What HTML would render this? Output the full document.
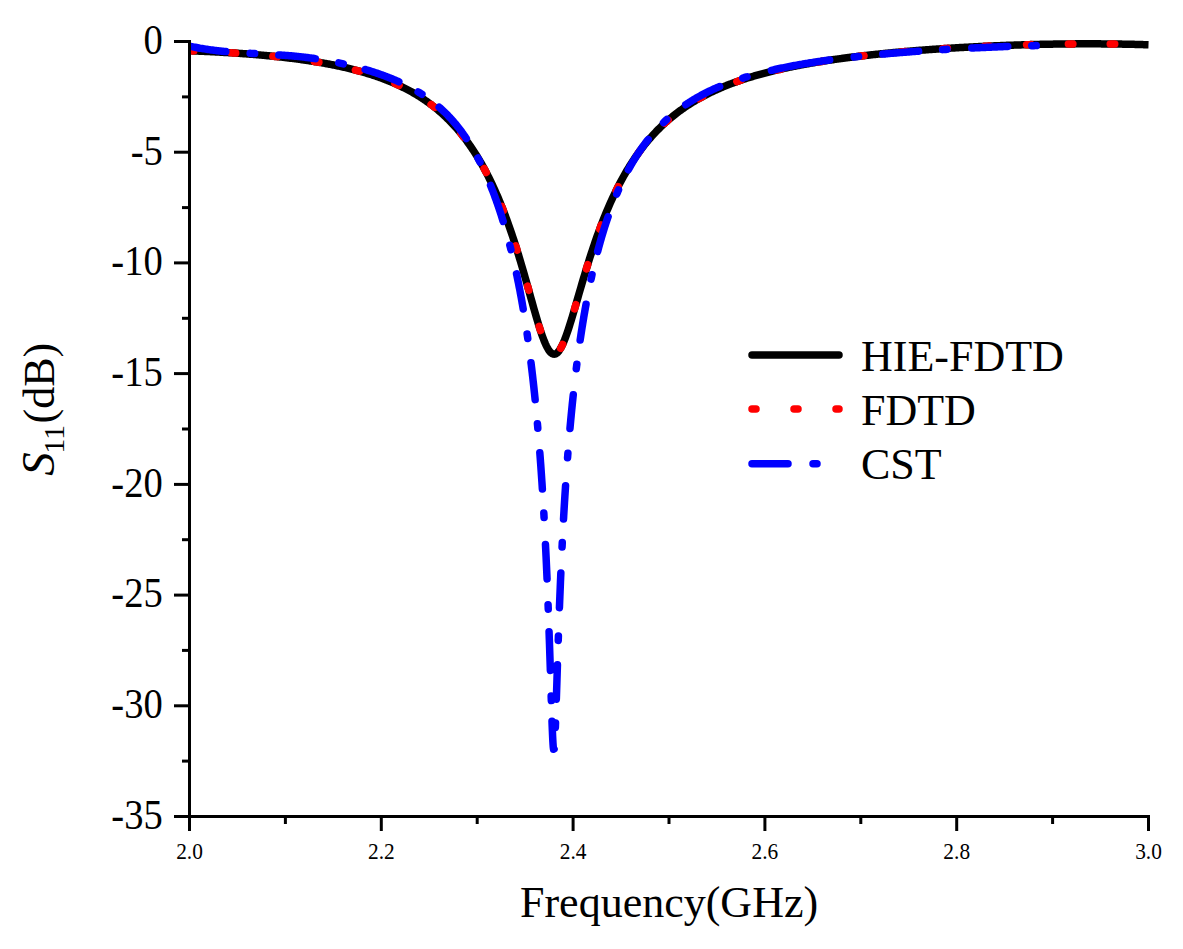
<!DOCTYPE html>
<html><head><meta charset="utf-8"><style>
html,body{margin:0;padding:0;background:#fff;width:1183px;height:949px;overflow:hidden}
svg{display:block}
text{font-family:"Liberation Serif",serif;fill:#000}
.yl{font-size:41.5px;text-anchor:end;dominant-baseline:central}
.xl{font-size:23px;text-anchor:middle}
.tt{font-size:44px}
</style></head><body>
<svg width="1183" height="949" viewBox="0 0 1183 949">
<defs><clipPath id="c"><rect x="190" y="0" width="959" height="949"/></clipPath></defs>
<g clip-path="url(#c)" fill="none" stroke-linejoin="round">
<path d="M189.50,50.79 190.46,50.82 191.42,50.86 192.38,50.89 193.34,50.93 194.29,50.97 195.25,51.00 196.21,51.04 197.17,51.08 198.13,51.12 199.09,51.16 200.05,51.20 201.01,51.24 201.97,51.28 202.93,51.32 203.88,51.36 204.84,51.40 205.80,51.45 206.76,51.49 207.72,51.54 208.68,51.58 209.64,51.63 210.60,51.67 211.56,51.72 212.52,51.77 213.47,51.82 214.43,51.86 215.39,51.91 216.35,51.96 217.31,52.01 218.27,52.07 219.23,52.12 220.19,52.17 221.15,52.22 222.11,52.28 223.06,52.33 224.02,52.39 224.98,52.44 225.94,52.50 226.90,52.56 227.86,52.62 228.82,52.67 229.78,52.73 230.74,52.79 231.70,52.85 232.65,52.92 233.61,52.98 234.57,53.04 235.53,53.10 236.49,53.17 237.45,53.23 238.41,53.30 239.37,53.37 240.33,53.43 241.29,53.50 242.24,53.57 243.20,53.64 244.16,53.71 245.12,53.78 246.08,53.85 247.04,53.93 248.00,54.00 248.96,54.08 249.92,54.15 250.88,54.23 251.83,54.30 252.79,54.38 253.75,54.46 254.71,54.54 255.67,54.62 256.63,54.70 257.59,54.78 258.55,54.87 259.51,54.95 260.47,55.03 261.42,55.12 262.38,55.21 263.34,55.29 264.30,55.38 265.26,55.47 266.22,55.56 267.18,55.65 268.14,55.75 269.10,55.84 270.06,55.93 271.01,56.03 271.97,56.12 272.93,56.22 273.89,56.32 274.85,56.42 275.81,56.52 276.77,56.62 277.73,56.72 278.69,56.83 279.65,56.93 280.60,57.04 281.56,57.14 282.52,57.25 283.48,57.36 284.44,57.47 285.40,57.58 286.36,57.69 287.32,57.81 288.28,57.92 289.24,58.04 290.19,58.16 291.15,58.28 292.11,58.40 293.07,58.52 294.03,58.64 294.99,58.76 295.95,58.89 296.91,59.01 297.87,59.14 298.83,59.27 299.78,59.40 300.74,59.53 301.70,59.67 302.66,59.80 303.62,59.94 304.58,60.08 305.54,60.22 306.50,60.36 307.46,60.50 308.42,60.64 309.37,60.79 310.33,60.93 311.29,61.08 312.25,61.23 313.21,61.38 314.17,61.54 315.13,61.69 316.09,61.85 317.05,62.01 318.01,62.17 318.96,62.33 319.92,62.49 320.88,62.66 321.84,62.83 322.80,62.99 323.76,63.17 324.72,63.34 325.68,63.51 326.64,63.69 327.60,63.87 328.55,64.05 329.51,64.23 330.47,64.42 331.43,64.60 332.39,64.79 333.35,64.98 334.31,65.18 335.27,65.37 336.23,65.57 337.19,65.77 338.14,65.97 339.10,66.18 340.06,66.39 341.02,66.60 341.98,66.81 342.94,67.02 343.90,67.24 344.86,67.46 345.82,67.68 346.78,67.90 347.73,68.13 348.69,68.36 349.65,68.59 350.61,68.83 351.57,69.07 352.53,69.31 353.49,69.55 354.45,69.80 355.41,70.05 356.37,70.30 357.32,70.56 358.28,70.81 359.24,71.08 360.20,71.34 361.16,71.61 362.12,71.88 363.08,72.16 364.04,72.43 365.00,72.72 365.96,73.00 366.91,73.29 367.87,73.58 368.83,73.88 369.79,74.18 370.75,74.48 371.71,74.79 372.67,75.10 373.63,75.41 374.59,75.73 375.55,76.06 376.50,76.38 377.46,76.71 378.42,77.05 379.38,77.39 380.34,77.73 381.30,78.08 382.26,78.44 383.22,78.79 384.18,79.16 385.14,79.52 386.09,79.90 387.05,80.27 388.01,80.65 388.97,81.04 389.93,81.43 390.89,81.83 391.85,82.23 392.81,82.64 393.77,83.06 394.73,83.47 395.68,83.90 396.64,84.33 397.60,84.77 398.56,85.21 399.52,85.66 400.48,86.11 401.44,86.57 402.40,87.04 403.36,87.51 404.32,87.99 405.27,88.48 406.23,88.98 407.19,89.48 408.15,89.98 409.11,90.50 410.07,91.02 411.03,91.55 411.99,92.09 412.95,92.63 413.91,93.19 414.86,93.75 415.82,94.31 416.78,94.89 417.74,95.48 418.70,96.07 419.66,96.67 420.62,97.28 421.58,97.90 422.54,98.53 423.50,99.17 424.45,99.82 425.41,100.48 426.37,101.14 427.33,101.82 428.29,102.51 429.25,103.21 430.21,103.92 431.17,104.63 432.13,105.36 433.09,106.11 434.04,106.86 435.00,107.62 435.96,108.40 436.92,109.18 437.88,109.98 438.84,110.79 439.80,111.62 440.76,112.46 441.72,113.31 442.68,114.17 443.63,115.05 444.59,115.94 445.55,116.84 446.51,117.76 447.47,118.69 448.43,119.64 449.39,120.60 450.35,121.58 451.31,122.58 452.27,123.59 453.22,124.61 454.18,125.66 455.14,126.72 456.10,127.79 457.06,128.89 458.02,130.00 458.98,131.13 459.94,132.28 460.90,133.44 461.86,134.63 462.81,135.84 463.77,137.06 464.73,138.31 465.69,139.58 466.65,140.86 467.61,142.17 468.57,143.50 469.53,144.86 470.49,146.23 471.45,147.63 472.40,149.05 473.36,150.50 474.32,151.97 475.28,153.47 476.24,154.99 477.20,156.53 478.16,158.11 479.12,159.70 480.08,161.33 481.04,162.99 481.99,164.67 482.95,166.38 483.91,168.12 484.87,169.89 485.83,171.69 486.79,173.52 487.75,175.38 488.71,177.28 489.67,179.21 490.63,181.17 491.58,183.16 492.54,185.19 493.50,187.25 494.46,189.35 495.42,191.48 496.38,193.65 497.34,195.86 498.30,198.10 499.26,200.39 500.22,202.71 501.17,205.07 502.13,207.47 503.09,209.91 504.05,212.39 505.01,214.91 505.97,217.47 506.93,220.08 507.89,222.73 508.85,225.41 509.81,228.15 510.76,230.92 511.72,233.74 512.68,236.60 513.64,239.50 514.60,242.45 515.56,245.44 516.52,248.47 517.48,251.54 518.44,254.65 519.40,257.80 520.35,260.99 521.31,264.21 522.27,267.47 523.23,270.76 524.19,274.09 525.15,277.44 526.11,280.82 527.07,284.21 528.03,287.63 528.99,291.06 529.94,294.49 530.90,297.93 531.86,301.36 532.82,304.78 533.78,308.18 534.74,311.55 535.70,314.89 536.66,318.17 537.62,321.40 538.58,324.56 539.53,327.63 540.49,330.61 541.45,333.47 542.41,336.21 543.37,338.81 544.33,341.26 545.29,343.53 546.25,345.62 547.21,347.51 548.17,349.19 549.12,350.64 550.08,351.85 551.04,352.82 552.00,353.53 552.96,353.99 553.92,354.18 554.88,354.10 555.84,353.77 556.80,353.17 557.76,352.32 558.71,351.22 559.67,349.89 560.63,348.34 561.59,346.57 562.55,344.60 563.51,342.45 564.47,340.13 565.43,337.65 566.39,335.04 567.35,332.30 568.30,329.45 569.26,326.50 570.22,323.48 571.18,320.38 572.14,317.22 573.10,314.01 574.06,310.77 575.02,307.50 575.98,304.21 576.94,300.90 577.89,297.60 578.85,294.29 579.81,290.99 580.77,287.70 581.73,284.42 582.69,281.17 583.65,277.94 584.61,274.74 585.57,271.57 586.53,268.43 587.48,265.32 588.44,262.25 589.40,259.22 590.36,256.22 591.32,253.26 592.28,250.34 593.24,247.46 594.20,244.63 595.16,241.83 596.12,239.07 597.07,236.36 598.03,233.69 598.99,231.05 599.95,228.46 600.91,225.91 601.87,223.40 602.83,220.93 603.79,218.50 604.75,216.11 605.71,213.76 606.66,211.44 607.62,209.17 608.58,206.93 609.54,204.73 610.50,202.56 611.46,200.43 612.42,198.34 613.38,196.28 614.34,194.25 615.30,192.26 616.25,190.30 617.21,188.37 618.17,186.48 619.13,184.61 620.09,182.78 621.05,180.98 622.01,179.21 622.97,177.46 623.93,175.75 624.89,174.06 625.84,172.40 626.80,170.77 627.76,169.16 628.72,167.58 629.68,166.03 630.64,164.50 631.60,163.00 632.56,161.52 633.52,160.06 634.48,158.63 635.43,157.22 636.39,155.83 637.35,154.47 638.31,153.12 639.27,151.80 640.23,150.50 641.19,149.22 642.15,147.96 643.11,146.71 644.07,145.49 645.02,144.29 645.98,143.10 646.94,141.94 647.90,140.79 648.86,139.66 649.82,138.54 650.78,137.45 651.74,136.37 652.70,135.30 653.66,134.26 654.61,133.22 655.57,132.21 656.53,131.21 657.49,130.22 658.45,129.25 659.41,128.29 660.37,127.35 661.33,126.42 662.29,125.50 663.25,124.60 664.20,123.71 665.16,122.83 666.12,121.97 667.08,121.12 668.04,120.28 669.00,119.45 669.96,118.63 670.92,117.83 671.88,117.04 672.84,116.25 673.79,115.48 674.75,114.72 675.71,113.97 676.67,113.23 677.63,112.50 678.59,111.78 679.55,111.07 680.51,110.37 681.47,109.68 682.43,109.00 683.38,108.33 684.34,107.67 685.30,107.01 686.26,106.37 687.22,105.73 688.18,105.10 689.14,104.48 690.10,103.87 691.06,103.27 692.02,102.67 692.97,102.08 693.93,101.50 694.89,100.93 695.85,100.36 696.81,99.80 697.77,99.25 698.73,98.71 699.69,98.17 700.65,97.64 701.61,97.11 702.56,96.59 703.52,96.08 704.48,95.58 705.44,95.08 706.40,94.58 707.36,94.10 708.32,93.62 709.28,93.14 710.24,92.67 711.20,92.21 712.15,91.75 713.11,91.30 714.07,90.85 715.03,90.41 715.99,89.97 716.95,89.54 717.91,89.11 718.87,88.69 719.83,88.27 720.79,87.86 721.74,87.45 722.70,87.05 723.66,86.65 724.62,86.26 725.58,85.87 726.54,85.48 727.50,85.10 728.46,84.73 729.42,84.35 730.38,83.99 731.33,83.62 732.29,83.26 733.25,82.91 734.21,82.55 735.17,82.20 736.13,81.86 737.09,81.52 738.05,81.18 739.01,80.85 739.97,80.52 740.92,80.19 741.88,79.87 742.84,79.55 743.80,79.23 744.76,78.92 745.72,78.61 746.68,78.30 747.64,78.00 748.60,77.70 749.56,77.40 750.51,77.11 751.47,76.81 752.43,76.53 753.39,76.24 754.35,75.96 755.31,75.68 756.27,75.40 757.23,75.13 758.19,74.86 759.15,74.59 760.10,74.32 761.06,74.06 762.02,73.79 762.98,73.54 763.94,73.28 764.90,73.03 765.86,72.77 766.82,72.53 767.78,72.28 768.74,72.03 769.69,71.79 770.65,71.55 771.61,71.31 772.57,71.08 773.53,70.85 774.49,70.62 775.45,70.39 776.41,70.16 777.37,69.93 778.33,69.71 779.28,69.49 780.24,69.27 781.20,69.06 782.16,68.84 783.12,68.63 784.08,68.42 785.04,68.21 786.00,68.00 786.96,67.79 787.92,67.59 788.87,67.39 789.83,67.19 790.79,66.99 791.75,66.79 792.71,66.60 793.67,66.40 794.63,66.21 795.59,66.02 796.55,65.83 797.51,65.65 798.46,65.46 799.42,65.28 800.38,65.09 801.34,64.91 802.30,64.73 803.26,64.56 804.22,64.38 805.18,64.20 806.14,64.03 807.10,63.86 808.05,63.69 809.01,63.52 809.97,63.35 810.93,63.18 811.89,63.02 812.85,62.85 813.81,62.69 814.77,62.53 815.73,62.37 816.69,62.21 817.64,62.05 818.60,61.89 819.56,61.74 820.52,61.58 821.48,61.43 822.44,61.28 823.40,61.13 824.36,60.98 825.32,60.83 826.28,60.68 827.23,60.54 828.19,60.39 829.15,60.25 830.11,60.10 831.07,59.96 832.03,59.82 832.99,59.68 833.95,59.54 834.91,59.40 835.87,59.27 836.82,59.13 837.78,59.00 838.74,58.86 839.70,58.73 840.66,58.60 841.62,58.47 842.58,58.34 843.54,58.21 844.50,58.08 845.46,57.95 846.41,57.83 847.37,57.70 848.33,57.58 849.29,57.45 850.25,57.33 851.21,57.21 852.17,57.09 853.13,56.97 854.09,56.85 855.05,56.73 856.00,56.61 856.96,56.49 857.92,56.38 858.88,56.26 859.84,56.15 860.80,56.03 861.76,55.92 862.72,55.81 863.68,55.70 864.64,55.59 865.59,55.48 866.55,55.37 867.51,55.26 868.47,55.15 869.43,55.04 870.39,54.94 871.35,54.83 872.31,54.73 873.27,54.62 874.23,54.52 875.18,54.42 876.14,54.31 877.10,54.21 878.06,54.11 879.02,54.01 879.98,53.91 880.94,53.81 881.90,53.72 882.86,53.62 883.82,53.52 884.77,53.42 885.73,53.33 886.69,53.23 887.65,53.14 888.61,53.05 889.57,52.95 890.53,52.86 891.49,52.77 892.45,52.68 893.41,52.59 894.36,52.50 895.32,52.41 896.28,52.32 897.24,52.23 898.20,52.14 899.16,52.06 900.12,51.97 901.08,51.88 902.04,51.80 903.00,51.71 903.95,51.63 904.91,51.55 905.87,51.46 906.83,51.38 907.79,51.30 908.75,51.22 909.71,51.14 910.67,51.06 911.63,50.98 912.59,50.90 913.54,50.82 914.50,50.74 915.46,50.66 916.42,50.58 917.38,50.51 918.34,50.43 919.30,50.36 920.26,50.28 921.22,50.21 922.18,50.13 923.13,50.06 924.09,49.98 925.05,49.91 926.01,49.84 926.97,49.77 927.93,49.70 928.89,49.63 929.85,49.56 930.81,49.49 931.77,49.42 932.72,49.35 933.68,49.28 934.64,49.21 935.60,49.14 936.56,49.08 937.52,49.01 938.48,48.95 939.44,48.88 940.40,48.81 941.36,48.75 942.31,48.69 943.27,48.62 944.23,48.56 945.19,48.50 946.15,48.43 947.11,48.37 948.07,48.31 949.03,48.25 949.99,48.19 950.95,48.13 951.90,48.07 952.86,48.01 953.82,47.95 954.78,47.89 955.74,47.84 956.70,47.78 957.66,47.72 958.62,47.66 959.58,47.61 960.54,47.55 961.49,47.50 962.45,47.44 963.41,47.39 964.37,47.33 965.33,47.28 966.29,47.23 967.25,47.17 968.21,47.12 969.17,47.07 970.13,47.02 971.08,46.97 972.04,46.92 973.00,46.87 973.96,46.82 974.92,46.77 975.88,46.72 976.84,46.67 977.80,46.62 978.76,46.57 979.72,46.53 980.67,46.48 981.63,46.43 982.59,46.39 983.55,46.34 984.51,46.30 985.47,46.25 986.43,46.21 987.39,46.16 988.35,46.12 989.31,46.08 990.26,46.03 991.22,45.99 992.18,45.95 993.14,45.91 994.10,45.87 995.06,45.83 996.02,45.79 996.98,45.75 997.94,45.71 998.90,45.67 999.85,45.63 1000.81,45.59 1001.77,45.55 1002.73,45.52 1003.69,45.48 1004.65,45.44 1005.61,45.41 1006.57,45.37 1007.53,45.34 1008.49,45.30 1009.44,45.27 1010.40,45.23 1011.36,45.20 1012.32,45.16 1013.28,45.13 1014.24,45.10 1015.20,45.07 1016.16,45.03 1017.12,45.00 1018.08,44.97 1019.03,44.94 1019.99,44.91 1020.95,44.88 1021.91,44.85 1022.87,44.82 1023.83,44.80 1024.79,44.77 1025.75,44.74 1026.71,44.71 1027.67,44.69 1028.62,44.66 1029.58,44.63 1030.54,44.61 1031.50,44.58 1032.46,44.56 1033.42,44.53 1034.38,44.51 1035.34,44.48 1036.30,44.46 1037.26,44.44 1038.21,44.42 1039.17,44.39 1040.13,44.37 1041.09,44.35 1042.05,44.33 1043.01,44.31 1043.97,44.29 1044.93,44.27 1045.89,44.25 1046.85,44.23 1047.80,44.22 1048.76,44.20 1049.72,44.18 1050.68,44.16 1051.64,44.15 1052.60,44.13 1053.56,44.11 1054.52,44.10 1055.48,44.08 1056.44,44.07 1057.39,44.06 1058.35,44.04 1059.31,44.03 1060.27,44.02 1061.23,44.00 1062.19,43.99 1063.15,43.98 1064.11,43.97 1065.07,43.96 1066.03,43.95 1066.98,43.94 1067.94,43.93 1068.90,43.92 1069.86,43.91 1070.82,43.90 1071.78,43.90 1072.74,43.89 1073.70,43.88 1074.66,43.88 1075.62,43.87 1076.57,43.86 1077.53,43.86 1078.49,43.85 1079.45,43.85 1080.41,43.85 1081.37,43.84 1082.33,43.84 1083.29,43.84 1084.25,43.84 1085.21,43.83 1086.16,43.83 1087.12,43.83 1088.08,43.83 1089.04,43.83 1090.00,43.83 1090.96,43.83 1091.92,43.84 1092.88,43.84 1093.84,43.84 1094.80,43.84 1095.75,43.85 1096.71,43.85 1097.67,43.86 1098.63,43.86 1099.59,43.87 1100.55,43.87 1101.51,43.88 1102.47,43.88 1103.43,43.89 1104.39,43.90 1105.34,43.91 1106.30,43.92 1107.26,43.92 1108.22,43.93 1109.18,43.94 1110.14,43.95 1111.10,43.97 1112.06,43.98 1113.02,43.99 1113.98,44.00 1114.93,44.01 1115.89,44.03 1116.85,44.04 1117.81,44.05 1118.77,44.07 1119.73,44.08 1120.69,44.10 1121.65,44.12 1122.61,44.13 1123.57,44.15 1124.52,44.17 1125.48,44.19 1126.44,44.20 1127.40,44.22 1128.36,44.24 1129.32,44.26 1130.28,44.28 1131.24,44.31 1132.20,44.33 1133.16,44.35 1134.11,44.37 1135.07,44.39 1136.03,44.42 1136.99,44.44 1137.95,44.47 1138.91,44.49 1139.87,44.52 1140.83,44.54 1141.79,44.57 1142.75,44.60 1143.70,44.63 1144.66,44.65 1145.62,44.68 1146.58,44.71 1147.54,44.74 1148.50,44.77" stroke="#000" stroke-width="7.5"/>
<path d="M189.50,50.79 190.46,50.82 191.42,50.86 192.38,50.89 193.34,50.93 194.29,50.97 195.25,51.00 196.21,51.04 197.17,51.08 198.13,51.12 199.09,51.16 200.05,51.20 201.01,51.24 201.97,51.28 202.93,51.32 203.88,51.36 204.84,51.40 205.80,51.45 206.76,51.49 207.72,51.54 208.68,51.58 209.64,51.63 210.60,51.67 211.56,51.72 212.52,51.77 213.47,51.82 214.43,51.86 215.39,51.91 216.35,51.96 217.31,52.01 218.27,52.07 219.23,52.12 220.19,52.17 221.15,52.22 222.11,52.28 223.06,52.33 224.02,52.39 224.98,52.44 225.94,52.50 226.90,52.56 227.86,52.62 228.82,52.67 229.78,52.73 230.74,52.79 231.70,52.85 232.65,52.92 233.61,52.98 234.57,53.04 235.53,53.10 236.49,53.17 237.45,53.23 238.41,53.30 239.37,53.37 240.33,53.43 241.29,53.50 242.24,53.57 243.20,53.64 244.16,53.71 245.12,53.78 246.08,53.85 247.04,53.93 248.00,54.00 248.96,54.08 249.92,54.15 250.88,54.23 251.83,54.30 252.79,54.38 253.75,54.46 254.71,54.54 255.67,54.62 256.63,54.70 257.59,54.78 258.55,54.87 259.51,54.95 260.47,55.03 261.42,55.12 262.38,55.21 263.34,55.29 264.30,55.38 265.26,55.47 266.22,55.56 267.18,55.65 268.14,55.75 269.10,55.84 270.06,55.93 271.01,56.03 271.97,56.12 272.93,56.22 273.89,56.32 274.85,56.42 275.81,56.52 276.77,56.62 277.73,56.72 278.69,56.83 279.65,56.93 280.60,57.04 281.56,57.14 282.52,57.25 283.48,57.36 284.44,57.47 285.40,57.58 286.36,57.69 287.32,57.81 288.28,57.92 289.24,58.04 290.19,58.16 291.15,58.28 292.11,58.40 293.07,58.52 294.03,58.64 294.99,58.76 295.95,58.89 296.91,59.01 297.87,59.14 298.83,59.27 299.78,59.40 300.74,59.53 301.70,59.67 302.66,59.80 303.62,59.94 304.58,60.08 305.54,60.22 306.50,60.36 307.46,60.50 308.42,60.64 309.37,60.79 310.33,60.93 311.29,61.08 312.25,61.23 313.21,61.38 314.17,61.54 315.13,61.69 316.09,61.85 317.05,62.01 318.01,62.17 318.96,62.33 319.92,62.49 320.88,62.66 321.84,62.83 322.80,62.99 323.76,63.17 324.72,63.34 325.68,63.51 326.64,63.69 327.60,63.87 328.55,64.05 329.51,64.23 330.47,64.42 331.43,64.60 332.39,64.79 333.35,64.98 334.31,65.18 335.27,65.37 336.23,65.57 337.19,65.77 338.14,65.97 339.10,66.18 340.06,66.39 341.02,66.60 341.98,66.81 342.94,67.02 343.90,67.24 344.86,67.46 345.82,67.68 346.78,67.90 347.73,68.13 348.69,68.36 349.65,68.59 350.61,68.83 351.57,69.07 352.53,69.31 353.49,69.55 354.45,69.80 355.41,70.05 356.37,70.30 357.32,70.56 358.28,70.81 359.24,71.08 360.20,71.34 361.16,71.61 362.12,71.88 363.08,72.16 364.04,72.43 365.00,72.72 365.96,73.00 366.91,73.29 367.87,73.58 368.83,73.88 369.79,74.18 370.75,74.48 371.71,74.79 372.67,75.10 373.63,75.41 374.59,75.73 375.55,76.06 376.50,76.38 377.46,76.71 378.42,77.05 379.38,77.39 380.34,77.73 381.30,78.08 382.26,78.44 383.22,78.79 384.18,79.16 385.14,79.52 386.09,79.90 387.05,80.27 388.01,80.65 388.97,81.04 389.93,81.43 390.89,81.83 391.85,82.23 392.81,82.64 393.77,83.06 394.73,83.47 395.68,83.90 396.64,84.33 397.60,84.77 398.56,85.21 399.52,85.66 400.48,86.11 401.44,86.57 402.40,87.04 403.36,87.51 404.32,87.99 405.27,88.48 406.23,88.98 407.19,89.48 408.15,89.98 409.11,90.50 410.07,91.02 411.03,91.55 411.99,92.09 412.95,92.63 413.91,93.19 414.86,93.75 415.82,94.31 416.78,94.89 417.74,95.48 418.70,96.07 419.66,96.67 420.62,97.28 421.58,97.90 422.54,98.53 423.50,99.17 424.45,99.82 425.41,100.48 426.37,101.14 427.33,101.82 428.29,102.51 429.25,103.21 430.21,103.92 431.17,104.63 432.13,105.36 433.09,106.11 434.04,106.86 435.00,107.62 435.96,108.40 436.92,109.18 437.88,109.98 438.84,110.79 439.80,111.62 440.76,112.46 441.72,113.31 442.68,114.17 443.63,115.05 444.59,115.94 445.55,116.84 446.51,117.76 447.47,118.69 448.43,119.64 449.39,120.60 450.35,121.58 451.31,122.58 452.27,123.59 453.22,124.61 454.18,125.66 455.14,126.72 456.10,127.79 457.06,128.89 458.02,130.00 458.98,131.13 459.94,132.28 460.90,133.44 461.86,134.63 462.81,135.84 463.77,137.06 464.73,138.31 465.69,139.58 466.65,140.86 467.61,142.17 468.57,143.50 469.53,144.86 470.49,146.23 471.45,147.63 472.40,149.05 473.36,150.50 474.32,151.97 475.28,153.47 476.24,154.99 477.20,156.53 478.16,158.11 479.12,159.70 480.08,161.33 481.04,162.99 481.99,164.67 482.95,166.38 483.91,168.12 484.87,169.89 485.83,171.69 486.79,173.52 487.75,175.38 488.71,177.28 489.67,179.21 490.63,181.17 491.58,183.16 492.54,185.19 493.50,187.25 494.46,189.35 495.42,191.48 496.38,193.65 497.34,195.86 498.30,198.10 499.26,200.39 500.22,202.71 501.17,205.07 502.13,207.47 503.09,209.91 504.05,212.39 505.01,214.91 505.97,217.47 506.93,220.08 507.89,222.73 508.85,225.41 509.81,228.15 510.76,230.92 511.72,233.74 512.68,236.60 513.64,239.50 514.60,242.45 515.56,245.44 516.52,248.47 517.48,251.54 518.44,254.65 519.40,257.80 520.35,260.99 521.31,264.21 522.27,267.47 523.23,270.76 524.19,274.09 525.15,277.44 526.11,280.82 527.07,284.21 528.03,287.63 528.99,291.06 529.94,294.49 530.90,297.93 531.86,301.36 532.82,304.78 533.78,308.18 534.74,311.55 535.70,314.89 536.66,318.17 537.62,321.40 538.58,324.56 539.53,327.63 540.49,330.61 541.45,333.47 542.41,336.21 543.37,338.81 544.33,341.26 545.29,343.53 546.25,345.62 547.21,347.51 548.17,349.19 549.12,350.64 550.08,351.85 551.04,352.82 552.00,353.53 552.96,353.99 553.92,354.18 554.88,354.10 555.84,353.77 556.80,353.17 557.76,352.32 558.71,351.22 559.67,349.89 560.63,348.34 561.59,346.57 562.55,344.60 563.51,342.45 564.47,340.13 565.43,337.65 566.39,335.04 567.35,332.30 568.30,329.45 569.26,326.50 570.22,323.48 571.18,320.38 572.14,317.22 573.10,314.01 574.06,310.77 575.02,307.50 575.98,304.21 576.94,300.90 577.89,297.60 578.85,294.29 579.81,290.99 580.77,287.70 581.73,284.42 582.69,281.17 583.65,277.94 584.61,274.74 585.57,271.57 586.53,268.43 587.48,265.32 588.44,262.25 589.40,259.22 590.36,256.22 591.32,253.26 592.28,250.34 593.24,247.46 594.20,244.63 595.16,241.83 596.12,239.07 597.07,236.36 598.03,233.69 598.99,231.05 599.95,228.46 600.91,225.91 601.87,223.40 602.83,220.93 603.79,218.50 604.75,216.11 605.71,213.76 606.66,211.44 607.62,209.17 608.58,206.93 609.54,204.73 610.50,202.56 611.46,200.43 612.42,198.34 613.38,196.28 614.34,194.25 615.30,192.26 616.25,190.30 617.21,188.37 618.17,186.48 619.13,184.61 620.09,182.78 621.05,180.98 622.01,179.21 622.97,177.46 623.93,175.75 624.89,174.06 625.84,172.40 626.80,170.77 627.76,169.16 628.72,167.58 629.68,166.03 630.64,164.50 631.60,163.00 632.56,161.52 633.52,160.06 634.48,158.63 635.43,157.22 636.39,155.83 637.35,154.47 638.31,153.12 639.27,151.80 640.23,150.50 641.19,149.22 642.15,147.96 643.11,146.71 644.07,145.49 645.02,144.29 645.98,143.10 646.94,141.94 647.90,140.79 648.86,139.66 649.82,138.54 650.78,137.45 651.74,136.37 652.70,135.30 653.66,134.26 654.61,133.22 655.57,132.21 656.53,131.21 657.49,130.22 658.45,129.25 659.41,128.29 660.37,127.35 661.33,126.42 662.29,125.50 663.25,124.60 664.20,123.71 665.16,122.83 666.12,121.97 667.08,121.12 668.04,120.28 669.00,119.45 669.96,118.63 670.92,117.83 671.88,117.04 672.84,116.25 673.79,115.48 674.75,114.72 675.71,113.97 676.67,113.23 677.63,112.50 678.59,111.78 679.55,111.07 680.51,110.37 681.47,109.68 682.43,109.00 683.38,108.33 684.34,107.67 685.30,107.01 686.26,106.37 687.22,105.73 688.18,105.10 689.14,104.48 690.10,103.87 691.06,103.27 692.02,102.67 692.97,102.08 693.93,101.50 694.89,100.93 695.85,100.36 696.81,99.80 697.77,99.25 698.73,98.71 699.69,98.17 700.65,97.64 701.61,97.11 702.56,96.59 703.52,96.08 704.48,95.58 705.44,95.08 706.40,94.58 707.36,94.10 708.32,93.62 709.28,93.14 710.24,92.67 711.20,92.21 712.15,91.75 713.11,91.30 714.07,90.85 715.03,90.41 715.99,89.97 716.95,89.54 717.91,89.11 718.87,88.69 719.83,88.27 720.79,87.86 721.74,87.45 722.70,87.05 723.66,86.65 724.62,86.26 725.58,85.87 726.54,85.48 727.50,85.10 728.46,84.73 729.42,84.35 730.38,83.99 731.33,83.62 732.29,83.26 733.25,82.91 734.21,82.55 735.17,82.20 736.13,81.86 737.09,81.52 738.05,81.18 739.01,80.85 739.97,80.52 740.92,80.19 741.88,79.87 742.84,79.55 743.80,79.23 744.76,78.92 745.72,78.61 746.68,78.30 747.64,78.00 748.60,77.70 749.56,77.40 750.51,77.11 751.47,76.81 752.43,76.53 753.39,76.24 754.35,75.96 755.31,75.68 756.27,75.40 757.23,75.13 758.19,74.86 759.15,74.59 760.10,74.32 761.06,74.06 762.02,73.79 762.98,73.54 763.94,73.28 764.90,73.03 765.86,72.77 766.82,72.53 767.78,72.28 768.74,72.03 769.69,71.79 770.65,71.55 771.61,71.31 772.57,71.08 773.53,70.85 774.49,70.62 775.45,70.39 776.41,70.16 777.37,69.93 778.33,69.71 779.28,69.49 780.24,69.27 781.20,69.06 782.16,68.84 783.12,68.63 784.08,68.42 785.04,68.21 786.00,68.00 786.96,67.79 787.92,67.59 788.87,67.39 789.83,67.19 790.79,66.99 791.75,66.79 792.71,66.60 793.67,66.40 794.63,66.21 795.59,66.02 796.55,65.83 797.51,65.65 798.46,65.46 799.42,65.28 800.38,65.09 801.34,64.91 802.30,64.73 803.26,64.56 804.22,64.38 805.18,64.20 806.14,64.03 807.10,63.86 808.05,63.69 809.01,63.52 809.97,63.35 810.93,63.18 811.89,63.02 812.85,62.85 813.81,62.69 814.77,62.53 815.73,62.37 816.69,62.21 817.64,62.05 818.60,61.89 819.56,61.74 820.52,61.58 821.48,61.43 822.44,61.28 823.40,61.13 824.36,60.98 825.32,60.83 826.28,60.68 827.23,60.54 828.19,60.39 829.15,60.25 830.11,60.10 831.07,59.96 832.03,59.82 832.99,59.68 833.95,59.54 834.91,59.40 835.87,59.27 836.82,59.13 837.78,59.00 838.74,58.86 839.70,58.73 840.66,58.60 841.62,58.47 842.58,58.34 843.54,58.21 844.50,58.08 845.46,57.95 846.41,57.83 847.37,57.70 848.33,57.58 849.29,57.45 850.25,57.33 851.21,57.21 852.17,57.09 853.13,56.97 854.09,56.85 855.05,56.73 856.00,56.61 856.96,56.49 857.92,56.38 858.88,56.26 859.84,56.15 860.80,56.03 861.76,55.92 862.72,55.81 863.68,55.70 864.64,55.59 865.59,55.48 866.55,55.37 867.51,55.26 868.47,55.15 869.43,55.04 870.39,54.94 871.35,54.83 872.31,54.73 873.27,54.62 874.23,54.52 875.18,54.42 876.14,54.31 877.10,54.21 878.06,54.11 879.02,54.01 879.98,53.91 880.94,53.81 881.90,53.72 882.86,53.62 883.82,53.52 884.77,53.42 885.73,53.33 886.69,53.23 887.65,53.14 888.61,53.05 889.57,52.95 890.53,52.86 891.49,52.77 892.45,52.68 893.41,52.59 894.36,52.50 895.32,52.41 896.28,52.32 897.24,52.23 898.20,52.14 899.16,52.06 900.12,51.97 901.08,51.88 902.04,51.80 903.00,51.71 903.95,51.63 904.91,51.55 905.87,51.46 906.83,51.38 907.79,51.30 908.75,51.22 909.71,51.14 910.67,51.06 911.63,50.98 912.59,50.90 913.54,50.82 914.50,50.74 915.46,50.66 916.42,50.58 917.38,50.51 918.34,50.43 919.30,50.36 920.26,50.28 921.22,50.21 922.18,50.13 923.13,50.06 924.09,49.98 925.05,49.91 926.01,49.84 926.97,49.77 927.93,49.70 928.89,49.63 929.85,49.56 930.81,49.49 931.77,49.42 932.72,49.35 933.68,49.28 934.64,49.21 935.60,49.14 936.56,49.08 937.52,49.01 938.48,48.95 939.44,48.88 940.40,48.81 941.36,48.75 942.31,48.69 943.27,48.62 944.23,48.56 945.19,48.50 946.15,48.43 947.11,48.37 948.07,48.31 949.03,48.25 949.99,48.19 950.95,48.13 951.90,48.07 952.86,48.01 953.82,47.95 954.78,47.89 955.74,47.84 956.70,47.78 957.66,47.72 958.62,47.66 959.58,47.61 960.54,47.55 961.49,47.50 962.45,47.44 963.41,47.39 964.37,47.33 965.33,47.28 966.29,47.23 967.25,47.17 968.21,47.12 969.17,47.07 970.13,47.02 971.08,46.97 972.04,46.92 973.00,46.87 973.96,46.82 974.92,46.77 975.88,46.72 976.84,46.67 977.80,46.62 978.76,46.57 979.72,46.53 980.67,46.48 981.63,46.43 982.59,46.39 983.55,46.34 984.51,46.30 985.47,46.25 986.43,46.21 987.39,46.16 988.35,46.12 989.31,46.08 990.26,46.03 991.22,45.99 992.18,45.95 993.14,45.91 994.10,45.87 995.06,45.83 996.02,45.79 996.98,45.75 997.94,45.71 998.90,45.67 999.85,45.63 1000.81,45.59 1001.77,45.55 1002.73,45.52 1003.69,45.48 1004.65,45.44 1005.61,45.41 1006.57,45.37 1007.53,45.34 1008.49,45.30 1009.44,45.27 1010.40,45.23 1011.36,45.20 1012.32,45.16 1013.28,45.13 1014.24,45.10 1015.20,45.07 1016.16,45.03 1017.12,45.00 1018.08,44.97 1019.03,44.94 1019.99,44.91 1020.95,44.88 1021.91,44.85 1022.87,44.82 1023.83,44.80 1024.79,44.77 1025.75,44.74 1026.71,44.71 1027.67,44.69 1028.62,44.66 1029.58,44.63 1030.54,44.61 1031.50,44.58 1032.46,44.56 1033.42,44.53 1034.38,44.51 1035.34,44.48 1036.30,44.46 1037.26,44.44 1038.21,44.42 1039.17,44.39 1040.13,44.37 1041.09,44.35 1042.05,44.33 1043.01,44.31 1043.97,44.29 1044.93,44.27 1045.89,44.25 1046.85,44.23 1047.80,44.22 1048.76,44.20 1049.72,44.18 1050.68,44.16 1051.64,44.15 1052.60,44.13 1053.56,44.11 1054.52,44.10 1055.48,44.08 1056.44,44.07 1057.39,44.06 1058.35,44.04 1059.31,44.03 1060.27,44.02 1061.23,44.00 1062.19,43.99 1063.15,43.98 1064.11,43.97 1065.07,43.96 1066.03,43.95 1066.98,43.94 1067.94,43.93 1068.90,43.92 1069.86,43.91 1070.82,43.90 1071.78,43.90 1072.74,43.89 1073.70,43.88 1074.66,43.88 1075.62,43.87 1076.57,43.86 1077.53,43.86 1078.49,43.85 1079.45,43.85 1080.41,43.85 1081.37,43.84 1082.33,43.84 1083.29,43.84 1084.25,43.84 1085.21,43.83 1086.16,43.83 1087.12,43.83 1088.08,43.83 1089.04,43.83 1090.00,43.83 1090.96,43.83 1091.92,43.84 1092.88,43.84 1093.84,43.84 1094.80,43.84 1095.75,43.85 1096.71,43.85 1097.67,43.86 1098.63,43.86 1099.59,43.87 1100.55,43.87 1101.51,43.88 1102.47,43.88 1103.43,43.89 1104.39,43.90 1105.34,43.91 1106.30,43.92 1107.26,43.92 1108.22,43.93 1109.18,43.94 1110.14,43.95 1111.10,43.97 1112.06,43.98 1113.02,43.99 1113.98,44.00 1114.93,44.01 1115.89,44.03 1116.85,44.04 1117.81,44.05 1118.77,44.07 1119.73,44.08 1120.69,44.10 1121.65,44.12 1122.61,44.13 1123.57,44.15 1124.52,44.17 1125.48,44.19 1126.44,44.20 1127.40,44.22 1128.36,44.24 1129.32,44.26 1130.28,44.28 1131.24,44.31 1132.20,44.33 1133.16,44.35 1134.11,44.37 1135.07,44.39 1136.03,44.42 1136.99,44.44 1137.95,44.47 1138.91,44.49 1139.87,44.52 1140.83,44.54 1141.79,44.57 1142.75,44.60 1143.70,44.63 1144.66,44.65 1145.62,44.68 1146.58,44.71 1147.54,44.74 1148.50,44.77" stroke="#f00" stroke-width="7.5" stroke-dasharray="4.5 37.36" stroke-dashoffset="0.12" stroke-linecap="round"/>
<path d="M189.50,46.25 190.65,46.39 191.80,46.62 192.95,46.84 194.10,47.06 195.25,47.29 196.40,47.51 197.56,47.74 198.71,47.97 199.86,48.20 201.01,48.38 202.16,48.56 203.31,48.74 204.46,48.91 205.61,49.09 206.76,49.27 207.91,49.46 209.06,49.64 210.21,49.81 211.37,49.95 212.52,50.09 213.67,50.23 214.82,50.37 215.97,50.51 217.12,50.66 218.27,50.80 219.42,50.94 220.57,51.07 221.72,51.18 222.87,51.29 224.02,51.39 225.17,51.51 225.75,51.56 M250.16,53.35 251.26,53.41 252.41,53.47 253.56,53.53 254.66,53.59 M278.79,54.94 279.84,55.01 280.99,55.08 282.14,55.16 283.29,55.24 284.44,55.32 285.59,55.41 286.74,55.49 287.89,55.58 289.04,55.67 290.19,55.76 291.35,55.86 292.50,55.97 293.65,56.07 294.80,56.18 295.95,56.28 297.10,56.39 298.25,56.51 299.40,56.62 300.55,56.74 301.70,56.87 302.85,57.01 304.00,57.14 305.16,57.28 306.31,57.42 307.46,57.56 308.61,57.70 309.76,57.85 310.91,58.01 312.06,58.17 313.21,58.33 314.36,58.50 315.26,58.63 M338.82,62.86 339.87,63.08 341.02,63.33 342.17,63.58 343.22,63.82 M365.15,69.47 366.15,69.76 367.11,70.05 368.07,70.34 369.02,70.63 369.98,70.93 370.94,71.23 371.90,71.53 372.86,71.83 373.82,72.14 374.78,72.46 375.74,72.77 376.70,73.09 377.66,73.42 378.61,73.75 379.57,74.08 380.53,74.42 381.49,74.76 382.45,75.10 383.41,75.45 384.37,75.81 385.33,76.16 386.29,76.53 387.25,76.90 388.20,77.27 389.16,77.65 390.12,78.03 391.08,78.42 392.04,78.81 393.00,79.20 393.96,79.61 394.92,80.01 395.88,80.43 396.84,80.85 397.79,81.27 398.75,81.70 398.80,81.73 M418.13,91.86 419.08,92.44 420.04,93.04 421.00,93.64 421.94,94.24 M439.21,107.21 439.99,107.90 440.76,108.59 441.53,109.29 442.29,109.99 443.06,110.71 443.83,111.44 444.59,112.18 445.36,112.93 446.13,113.69 446.90,114.46 447.66,115.24 448.43,116.03 449.20,116.83 449.96,117.64 450.73,118.48 451.50,119.33 452.27,120.19 453.03,121.07 453.80,121.95 454.57,122.85 455.33,123.76 456.10,124.69 456.87,125.63 457.64,126.58 458.40,127.54 459.17,128.52 459.94,129.51 460.71,130.54 461.47,131.58 462.24,132.63 463.01,133.70 463.77,134.79 464.35,135.61 464.92,136.45 465.50,137.29 466.08,138.14 466.32,138.51 M477.88,158.04 478.35,158.93 478.93,160.03 479.50,161.15 479.95,162.04 M490.52,185.41 491.01,186.63 491.39,187.58 491.78,188.55 492.16,189.52 492.54,190.50 492.93,191.50 493.31,192.49 493.69,193.50 494.08,194.52 494.46,195.55 494.85,196.58 495.23,197.63 495.61,198.68 496.00,199.74 496.38,200.81 496.76,201.90 497.15,202.99 497.53,204.09 497.91,205.20 498.30,206.32 498.68,207.46 499.07,208.60 499.45,209.75 499.83,210.92 500.22,212.08 500.60,213.26 500.98,214.44 501.37,215.64 501.75,216.85 502.13,218.07 502.52,219.30 502.90,220.54 503.16,221.40 M509.82,245.23 510.19,246.66 510.57,248.16 510.93,249.59 M516.54,273.86 516.90,275.57 517.29,277.41 517.67,279.27 518.05,281.15 518.44,283.05 518.82,284.98 519.20,286.93 519.40,287.92 519.59,288.91 519.78,289.91 519.97,290.91 520.16,291.95 520.35,292.98 520.55,294.01 520.74,295.05 520.93,296.09 521.12,297.14 521.31,298.20 521.51,299.27 521.70,300.34 521.89,301.42 522.08,302.51 522.27,303.60 522.46,304.70 522.66,305.81 522.85,306.93 523.04,308.05 523.19,308.93 M527.13,334.00 527.45,336.23 527.64,337.56 527.77,338.45 M530.99,362.67 531.29,365.12 531.48,366.69 531.67,368.28 531.86,369.88 532.05,371.50 532.25,373.13 532.44,374.78 532.63,376.44 532.82,378.12 533.01,379.81 533.21,381.52 533.40,383.25 533.59,384.99 533.78,386.75 533.97,388.52 534.16,390.31 534.36,392.12 534.55,393.95 534.74,395.80 534.93,397.66 535.12,399.54 535.13,399.64 M537.42,423.67 537.62,425.91 537.81,428.10 537.81,428.16 M539.82,452.75 539.92,453.98 540.11,456.51 540.30,459.07 540.49,461.67 540.69,464.31 540.88,466.98 541.07,469.68 541.26,472.43 541.45,475.21 541.64,478.03 541.84,480.89 542.03,483.79 542.22,486.74 542.37,489.01 M543.82,513.09 543.95,515.34 544.07,517.58 M545.47,544.39 545.67,548.45 545.86,552.47 546.06,556.55 546.25,560.71 546.44,564.95 546.63,569.26 546.82,573.66 547.02,578.14 547.05,578.96 M548.08,604.64 548.17,606.89 548.25,609.14 M549.06,631.67 549.12,633.42 549.32,639.01 549.51,644.69 549.70,650.45 549.89,656.29 550.08,662.20 550.28,668.17 550.35,670.44 M551.16,696.10 551.23,698.34 551.31,700.59 M552.00,721.16 552.19,726.32 552.39,731.14 552.58,735.55 552.77,739.49 552.96,742.89 553.15,745.68 553.34,747.80 553.54,749.21 554.09,749.02 M555.37,727.41 555.45,725.16 555.54,722.91 M556.34,699.25 556.41,697.07 556.61,691.08 556.80,685.06 556.99,679.03 557.18,673.02 557.37,667.04 557.44,664.87 M558.25,640.39 558.33,638.14 558.41,635.89 M559.43,607.67 559.48,606.36 559.67,601.39 559.87,596.52 560.06,591.74 560.25,587.05 560.44,582.45 560.63,577.94 560.82,573.51 560.85,572.92 M562.06,546.97 562.17,544.73 562.28,542.48 M563.53,519.02 563.70,515.92 563.89,512.59 564.09,509.31 564.28,506.08 564.47,502.90 564.66,499.77 564.85,496.68 565.04,493.65 565.24,490.66 565.43,487.71 565.56,485.69 M567.56,457.67 567.73,455.43 567.90,453.18 M569.98,428.40 570.22,425.68 570.41,423.57 570.61,421.49 570.80,419.43 570.99,417.40 571.18,415.38 571.37,413.39 571.57,411.42 571.76,409.48 571.95,407.55 572.14,405.64 572.33,403.75 572.52,401.88 572.72,400.03 572.91,398.20 573.10,396.39 573.27,394.79 M576.27,368.80 576.55,366.57 576.74,365.05 576.84,364.33 M580.16,340.05 580.39,338.51 580.58,337.22 580.77,335.94 580.96,334.68 581.16,333.42 581.35,332.17 581.54,330.93 581.73,329.70 581.92,328.48 582.11,327.26 582.31,326.06 582.50,324.87 582.69,323.68 582.88,322.50 583.07,321.33 583.27,320.17 583.46,319.02 583.65,317.88 583.84,316.74 584.03,315.61 584.22,314.49 584.42,313.38 584.61,312.28 584.80,311.18 584.99,310.09 585.18,309.01 585.38,307.93 585.57,306.86 585.76,305.80 585.95,304.75 586.03,304.29 M591.03,279.18 591.32,277.85 591.70,276.11 592.00,274.78 M597.63,251.49 598.03,249.97 598.42,248.53 598.80,247.11 599.18,245.70 599.57,244.31 599.95,242.93 600.34,241.57 600.72,240.22 601.10,238.88 601.49,237.56 601.87,236.25 602.25,234.96 602.64,233.68 603.02,232.41 603.40,231.15 603.79,229.90 604.17,228.67 604.56,227.45 604.94,226.24 605.32,225.05 605.71,223.86 606.09,222.69 606.47,221.53 606.86,220.37 607.24,219.23 607.62,218.10 608.01,216.98 608.11,216.69 M616.71,194.14 617.21,192.97 617.79,191.63 618.36,190.31 618.50,190.01 M628.37,169.76 628.91,168.78 629.49,167.73 630.06,166.70 630.64,165.68 631.22,164.68 631.79,163.68 632.37,162.70 632.94,161.72 633.52,160.76 634.09,159.81 634.67,158.87 635.24,157.94 635.82,157.02 636.39,156.11 636.97,155.21 637.54,154.32 638.12,153.44 638.70,152.58 639.27,151.72 639.85,150.86 640.42,150.02 641.00,149.19 641.57,148.37 642.34,147.29 643.11,146.22 643.87,145.16 644.64,144.13 645.41,143.10 646.18,142.10 646.94,141.10 647.71,140.12 648.22,139.47 M663.53,122.61 664.40,121.78 665.16,121.06 665.93,120.34 666.70,119.64 666.82,119.53 M685.70,104.68 686.65,104.05 687.60,103.41 688.56,102.79 689.52,102.17 690.48,101.56 691.44,100.96 692.40,100.37 693.36,99.79 694.32,99.21 695.28,98.64 696.24,98.08 697.19,97.53 698.15,96.99 699.11,96.45 700.07,95.92 701.03,95.40 701.99,94.89 702.95,94.38 703.91,93.88 704.87,93.38 705.83,92.89 706.78,92.41 707.74,91.93 708.70,91.46 709.66,91.00 710.62,90.54 711.58,90.09 712.54,89.65 713.50,89.21 714.46,88.77 715.42,88.34 716.37,87.92 717.33,87.50 718.29,87.09 719.25,86.68 719.62,86.52 M742.81,78.05 743.80,77.74 744.76,77.44 745.72,77.15 746.68,76.86 747.11,76.73 M771.43,70.31 772.57,70.05 773.72,69.79 774.87,69.53 776.02,69.27 777.18,69.02 778.33,68.77 779.48,68.52 780.63,68.28 781.78,68.04 782.93,67.80 784.08,67.57 785.23,67.33 786.38,67.10 787.53,66.88 788.68,66.65 789.83,66.43 790.98,66.21 792.14,65.99 793.29,65.77 794.44,65.56 795.59,65.35 796.74,65.14 797.89,64.93 799.04,64.73 800.19,64.53 801.34,64.33 802.49,64.13 803.64,63.93 804.79,63.74 805.95,63.55 807.10,63.36 808.25,63.17 809.40,62.98 810.55,62.80 811.70,62.62 812.85,62.44 814.00,62.26 815.15,62.08 816.30,61.91 817.45,61.73 818.60,61.56 819.75,61.39 820.91,61.22 822.06,61.06 823.21,60.89 824.36,60.73 825.51,60.56 826.66,60.40 827.81,60.24 828.96,60.09 829.66,59.99 M854.15,56.98 855.24,56.86 856.39,56.73 857.54,56.60 858.63,56.48 M882.76,54.09 883.82,53.99 884.97,53.89 886.12,53.79 887.27,53.68 888.42,53.58 889.57,53.48 890.72,53.38 891.87,53.28 893.02,53.19 894.17,53.09 895.32,52.99 896.47,52.90 897.63,52.80 898.78,52.71 899.93,52.62 901.08,52.52 902.23,52.43 903.38,52.34 904.53,52.25 905.68,52.16 906.83,52.07 907.98,51.98 909.13,51.89 910.28,51.81 911.44,51.72 912.59,51.63 913.74,51.55 914.89,51.46 916.04,51.38 917.19,51.30 918.34,51.22 918.63,51.19 M942.56,49.62 943.66,49.55 944.81,49.48 945.96,49.42 947.05,49.35 M971.76,48.02 972.81,47.97 973.96,47.91 975.11,47.85 976.26,47.80 977.41,47.75 978.57,47.69 979.72,47.64 980.87,47.58 982.02,47.53 983.17,47.48 984.32,47.43 985.47,47.38 986.62,47.33 987.77,47.28 988.92,47.23 990.07,47.18 991.22,47.13 992.37,47.08 993.53,47.03 994.68,46.98 995.83,46.94 996.98,46.89 998.13,46.84 999.28,46.80 1000.43,46.75 1001.58,46.71 1002.73,46.66 1003.88,46.62 1005.03,46.57 1006.18,46.53 1007.34,46.49 1007.81,46.47 M1031.75,45.69 1032.84,45.66 1034.00,45.63 1035.15,45.59 1036.24,45.56" stroke="#00f" stroke-width="7.5" stroke-linecap="round"/>
</g>
<g stroke="#000" stroke-width="3" fill="none">
<line x1="189.5" y1="40" x2="189.5" y2="818"/>
<line x1="188" y1="816.5" x2="1150" y2="816.5"/>
<line x1="174" y1="41.5" x2="189.5" y2="41.5"/><line x1="182" y1="96.9" x2="189.5" y2="96.9"/><line x1="174" y1="152.2" x2="189.5" y2="152.2"/><line x1="182" y1="207.6" x2="189.5" y2="207.6"/><line x1="174" y1="262.9" x2="189.5" y2="262.9"/><line x1="182" y1="318.3" x2="189.5" y2="318.3"/><line x1="174" y1="373.6" x2="189.5" y2="373.6"/><line x1="182" y1="429.0" x2="189.5" y2="429.0"/><line x1="174" y1="484.4" x2="189.5" y2="484.4"/><line x1="182" y1="539.7" x2="189.5" y2="539.7"/><line x1="174" y1="595.1" x2="189.5" y2="595.1"/><line x1="182" y1="650.4" x2="189.5" y2="650.4"/><line x1="174" y1="705.8" x2="189.5" y2="705.8"/><line x1="182" y1="761.1" x2="189.5" y2="761.1"/><line x1="174" y1="816.5" x2="189.5" y2="816.5"/><line x1="189.5" y1="816.5" x2="189.5" y2="831"/><line x1="285.4" y1="816.5" x2="285.4" y2="824"/><line x1="381.3" y1="816.5" x2="381.3" y2="831"/><line x1="477.2" y1="816.5" x2="477.2" y2="824"/><line x1="573.1" y1="816.5" x2="573.1" y2="831"/><line x1="669.0" y1="816.5" x2="669.0" y2="824"/><line x1="764.9" y1="816.5" x2="764.9" y2="831"/><line x1="860.8" y1="816.5" x2="860.8" y2="824"/><line x1="956.7" y1="816.5" x2="956.7" y2="831"/><line x1="1052.6" y1="816.5" x2="1052.6" y2="824"/><line x1="1148.5" y1="816.5" x2="1148.5" y2="831"/>
</g>
<text transform="translate(162.8,39.9) scale(0.93,1)" class="yl">0</text><text transform="translate(162.8,150.6) scale(0.93,1)" class="yl">-5</text><text transform="translate(162.8,261.3) scale(0.93,1)" class="yl">-10</text><text transform="translate(162.8,372.0) scale(0.93,1)" class="yl">-15</text><text transform="translate(162.8,482.8) scale(0.93,1)" class="yl">-20</text><text transform="translate(162.8,593.5) scale(0.93,1)" class="yl">-25</text><text transform="translate(162.8,704.2) scale(0.93,1)" class="yl">-30</text><text transform="translate(162.8,814.9) scale(0.93,1)" class="yl">-35</text><text transform="translate(189.5,859) scale(0.93,1)" class="xl">2.0</text><text transform="translate(381.3,859) scale(0.93,1)" class="xl">2.2</text><text transform="translate(573.1,859) scale(0.93,1)" class="xl">2.4</text><text transform="translate(764.9,859) scale(0.93,1)" class="xl">2.6</text><text transform="translate(956.7,859) scale(0.93,1)" class="xl">2.8</text><text transform="translate(1148.5,859) scale(0.93,1)" class="xl">3.0</text>
<text x="520" y="917" class="tt">Frequency(GHz)</text>
<text transform="translate(54.3,475.8) rotate(-90)" class="tt"><tspan font-style="italic" font-size="47">S</tspan><tspan font-size="30" dy="9.7" dx="-1.5">11</tspan><tspan dy="-9.7" dx="1.5">(dB)</tspan></text>
<g fill="none" stroke-width="7.5" stroke-linecap="round">
<line x1="752" y1="355" x2="839" y2="355" stroke="#000"/>
<line x1="752" y1="409" x2="839" y2="409" stroke="#f00" stroke-dasharray="4 38"/>
<line x1="752" y1="463.7" x2="839" y2="463.7" stroke="#00f" stroke-dasharray="36 25 4 25"/>
</g>
<text x="861" y="370.5" class="tt">HIE-FDTD</text>
<text x="861" y="424.5" class="tt">FDTD</text>
<text x="861" y="479" class="tt">CST</text>
</svg>
</body></html>
